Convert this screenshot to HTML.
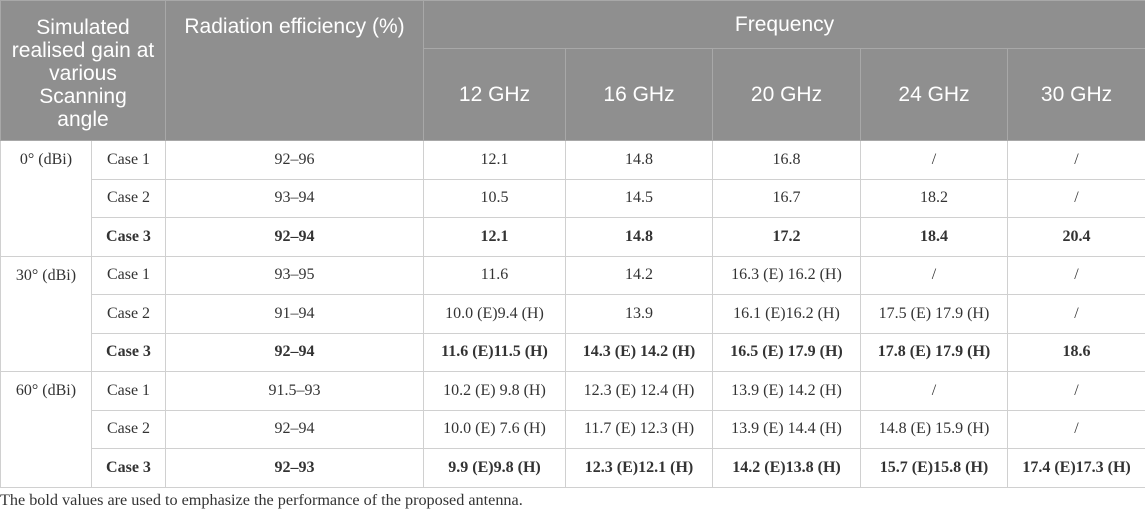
<!DOCTYPE html>
<html><head><style>
body{margin:0;width:1145px;height:511px;background:#fff;overflow:hidden}
table{position:absolute;left:0;top:0;border-collapse:collapse;table-layout:fixed;width:1145px}
td,th{padding:0;text-align:center;vertical-align:middle;border:1px solid #d0d0d0}
th{background:#8f8f8f;color:#fff;font-family:"Liberation Sans",sans-serif;font-weight:normal;font-size:21px;border-color:#a8a8a8;line-height:23px}
td{font-family:"Liberation Serif",serif;font-size:16px;color:#333;height:37.5px}
tr.b td{font-weight:bold}
td.g{vertical-align:top;padding-top:10px}
.foot{position:absolute;left:0;top:491px;font-family:"Liberation Serif",serif;font-size:16.2px;color:#333}
</style></head><body>
<table>
<colgroup><col style="width:91px"><col style="width:74px"><col style="width:258px"><col style="width:142px"><col style="width:147px"><col style="width:148px"><col style="width:147px"><col style="width:138px"></colgroup>
<tr style="height:48px"><th colspan="2" rowspan="2" style="vertical-align:top;padding-top:15px">Simulated<br>realised gain at<br>various<br>Scanning<br>angle</th><th rowspan="2" style="vertical-align:top;padding-top:14px">Radiation efficiency (%)</th><th colspan="5">Frequency</th></tr>
<tr style="height:92px"><th>12 GHz</th><th>16 GHz</th><th>20 GHz</th><th>24 GHz</th><th>30 GHz</th></tr>
<tr><td rowspan="3" class="g">0° (dBi)</td><td>Case 1</td><td>92–96</td><td>12.1</td><td>14.8</td><td>16.8</td><td>/</td><td>/</td></tr>
<tr><td>Case 2</td><td>93–94</td><td>10.5</td><td>14.5</td><td>16.7</td><td>18.2</td><td>/</td></tr>
<tr class="b"><td>Case 3</td><td>92–94</td><td>12.1</td><td>14.8</td><td>17.2</td><td>18.4</td><td>20.4</td></tr>
<tr><td rowspan="3" class="g" style="font-weight:normal">30° (dBi)</td><td>Case 1</td><td>93–95</td><td>11.6</td><td>14.2</td><td>16.3 (E) 16.2 (H)</td><td>/</td><td>/</td></tr>
<tr><td>Case 2</td><td>91–94</td><td>10.0 (E)9.4 (H)</td><td>13.9</td><td>16.1 (E)16.2 (H)</td><td>17.5 (E) 17.9 (H)</td><td>/</td></tr>
<tr class="b"><td>Case 3</td><td>92–94</td><td>11.6 (E)11.5 (H)</td><td>14.3 (E) 14.2 (H)</td><td>16.5 (E) 17.9 (H)</td><td>17.8 (E) 17.9 (H)</td><td>18.6</td></tr>
<tr><td rowspan="3" class="g">60° (dBi)</td><td>Case 1</td><td>91.5–93</td><td>10.2 (E) 9.8 (H)</td><td>12.3 (E) 12.4 (H)</td><td>13.9 (E) 14.2 (H)</td><td>/</td><td>/</td></tr>
<tr><td>Case 2</td><td>92–94</td><td>10.0 (E) 7.6 (H)</td><td>11.7 (E) 12.3 (H)</td><td>13.9 (E) 14.4 (H)</td><td>14.8 (E) 15.9 (H)</td><td>/</td></tr>
<tr class="b"><td>Case 3</td><td>92–93</td><td>9.9 (E)9.8 (H)</td><td>12.3 (E)12.1 (H)</td><td>14.2 (E)13.8 (H)</td><td>15.7 (E)15.8 (H)</td><td>17.4 (E)17.3 (H)</td></tr>
</table>
<div class="foot">The bold values are used to emphasize the performance of the proposed antenna.</div>
</body></html>
